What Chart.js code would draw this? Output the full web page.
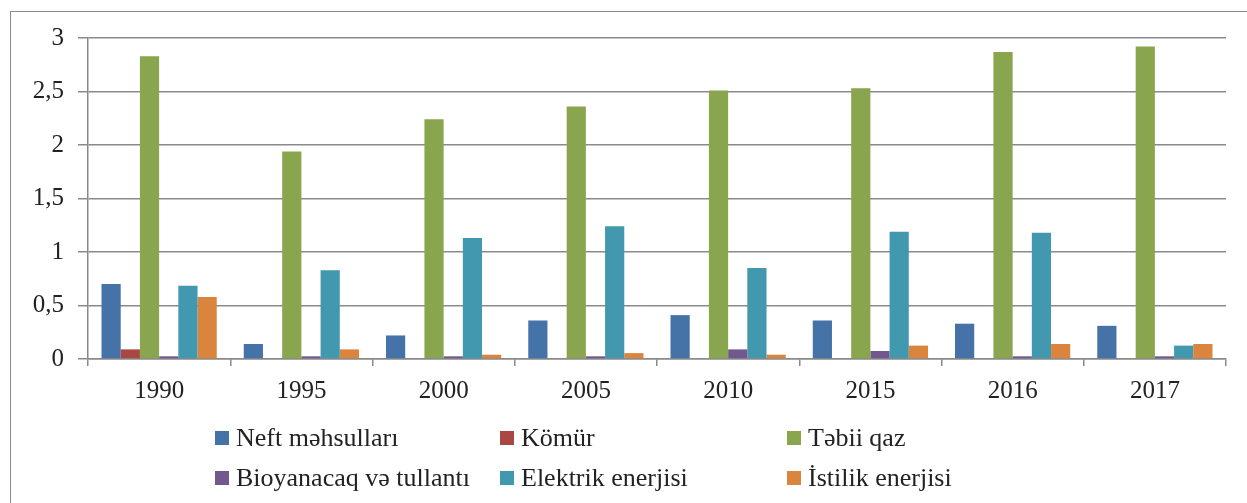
<!DOCTYPE html>
<html>
<head>
<meta charset="utf-8">
<script src="https://cdn.jsdelivr.net/npm/chart.js@4"></script>
<style>
  body { margin: 0; background: #fff; }
  #wrap { position: relative; width: 1247px; height: 503px; overflow: hidden; }
  #frame { position: absolute; left: 10px; top: 11px; width: 1300px; height: 600px; border: 1.5px solid #8c8c8c; }
  #box { position: absolute; left: 0; top: 0; width: 1247px; height: 503px; }
</style>
</head>
<body>
<div id="wrap">
  <div id="frame"></div>
  <div id="box"><canvas id="myChart"></canvas></div>
</div>
<script>
const years = ['1990', '1995', '2000', '2005', '2010', '2015', '2016', '2017'];
const neft     = [0.70, 0.14, 0.22, 0.36, 0.41, 0.36, 0.33, 0.31];
const komur    = [0.09, 0, 0, 0, 0, 0, 0, 0];
const qaz      = [2.83, 1.94, 2.24, 2.36, 2.51, 2.53, 2.87, 2.92];
const bio      = [0.025, 0.025, 0.025, 0.025, 0.09, 0.075, 0.025, 0.025];
const elektrik = [0.685, 0.83, 1.13, 1.24, 0.85, 1.19, 1.18, 0.125];
const istilik  = [0.58, 0.09, 0.04, 0.055, 0.04, 0.125, 0.14, 0.14];
const yTicks = [0, 0.5, 1, 1.5, 2, 2.5, 3];

const names = ['Neft məhsulları', 'Kömür', 'Təbii qaz', 'Bioyanacaq və tullantı', 'Elektrik enerjisi', 'İstilik enerjisi'];
const colors = ['#4572A7', '#AA4643', '#89A54E', '#71588F', '#4198AF', '#DB843D'];
const series = [neft, komur, qaz, bio, elektrik, istilik];

const gridColor = '#8a8a8a';
const fontFamily = '"Liberation Serif", "DejaVu Serif", serif';
const font = { family: fontFamily, size: 25 };

// excel style legend: 3 fixed columns, 2 rows, drawn on the canvas
const gridLegend = {
  id: 'gridLegend',
  afterDraw(chart) {
    const c = chart.ctx;
    const colX = [215, 500, 787];
    const rowY = [438, 478];
    c.save();
    c.font = '26px ' + fontFamily;
    c.textBaseline = 'middle';
    c.textAlign = 'left';
    chart.data.datasets.forEach((ds, i) => {
      const x = colX[i % 3];
      const y = rowY[Math.floor(i / 3)];
      c.fillStyle = ds.backgroundColor;
      c.fillRect(x, y - 7, 14, 14);
      c.fillStyle = '#222';
      c.fillText(ds.label, x + 21, y + 1);
    });
    c.restore();
  }
};

const ctx = document.getElementById('myChart').getContext('2d');
const myChart = new Chart(ctx, {
  type: 'bar',
  data: {
    labels: years,
    datasets: series.map((d, i) => ({
      label: names[i],
      data: d,
      backgroundColor: colors[i],
      borderWidth: 0,
      categoryPercentage: 0.81,
      barPercentage: 1.0
    }))
  },
  options: {
    responsive: true,
    maintainAspectRatio: false,
    animation: false,
    layout: { padding: { left: 0, right: 21, top: 38, bottom: 0 } },
    plugins: { legend: { display: false }, tooltip: { enabled: false } },
    scales: {
      x: {
        grid: { drawOnChartArea: false, drawTicks: true, tickLength: 7, color: gridColor, lineWidth: 1.5 },
        border: { display: true, color: gridColor, width: 1.5 },
        ticks: { color: '#222', font: font, padding: 10, maxRotation: 0 },
        afterFit: s => { s.height = 144; }
      },
      y: {
        min: 0,
        max: 3,
        afterBuildTicks: s => { s.ticks = yTicks.map(v => ({ value: v })); },
        grid: { color: gridColor, lineWidth: 1.5, tickLength: 10 },
        border: { display: true, color: gridColor, width: 1.5 },
        ticks: {
          color: '#222',
          font: font,
          padding: 14,
          callback: v => String(v).replace('.', ',')
        },
        afterFit: s => { s.width = 88; }
      }
    }
  },
  plugins: [gridLegend]
});
</script>
</body>
</html>
